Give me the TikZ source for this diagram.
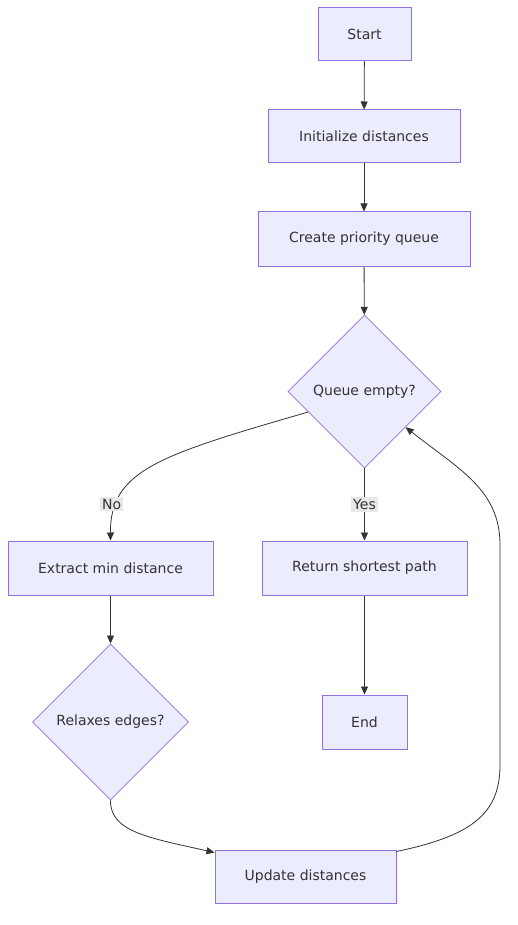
\documentclass[tikz,border=0pt]{standalone}
\usepackage{fontspec}
\setmainfont{DejaVu Sans}
\usetikzlibrary{shapes.geometric,arrows.meta}
\definecolor{boxfill}{HTML}{ECECFF}
\definecolor{boxline}{HTML}{9370DB}
\definecolor{ink}{HTML}{333333}
\definecolor{tagfill}{HTML}{E8E8E8}
\begin{document}
\begin{tikzpicture}[x=1pt, y=-1pt,
		font=\fontsize{14}{16}\selectfont, text=ink,
		stepbox/.style={draw=boxline, fill=boxfill, line width=1pt, inner sep=0pt},
		choice/.style={diamond, draw=boxline, fill=boxfill, line width=0.8pt, inner sep=0pt, minimum width=153pt, minimum height=153pt},
		flow/.style={draw=ink, line width=0.8pt, -{Triangle[length=8pt,width=7pt]}},
		tag/.style={fill=tagfill, inner sep=2pt}]
	\useasboundingbox[fill=white] (0,0) rectangle (517,925);

	\node[stepbox, minimum width=93pt, minimum height=53pt] (start) at (364.5,34.5) {Start};
	\node[stepbox, minimum width=192pt, minimum height=53pt] (init) at (364,136.5) {Initialize distances};
	\node[stepbox, minimum width=212pt, minimum height=54pt] (queue) at (364,239) {Create priority queue};
	\node[choice] (empty) at (364.5,391.5) {Queue empty?};
	\node[stepbox, minimum width=205pt, minimum height=54pt] (extract) at (110.5,568) {Extract min distance};
	\node[stepbox, minimum width=205pt, minimum height=54pt] (path) at (364.5,568) {Return shortest path};
	\node[choice, minimum width=156pt, minimum height=156pt] (relax) at (110.5,722) {Relaxes edges?};
	\node[stepbox, minimum width=85pt, minimum height=54pt] (end) at (364.5,722) {End};
	\node[stepbox, minimum width=181pt, minimum height=53pt] (update) at (305.5,876.5) {Update distances};

	\draw[flow] (start) -- (init);
	\draw[flow] (init) -- (queue);
	\draw[flow] (queue) -- (empty);

	\draw[flow] (empty.200) .. controls (160,455) and (110,470) .. (extract.north)
		node[tag, pos=0.8, xshift=-5pt] {No};
	\draw[flow] (empty) -- (path) node[tag, pos=0.5] {Yes};

	\draw[flow] (extract) -- (relax);
	\draw[flow] (path) -- (end);

	\draw[flow] (relax.south) .. controls (110,832) and (150,838) .. ([yshift=-3pt]update.north west);
	\draw[flow] ([yshift=-2pt]update.north east) .. controls (470,836) and (500,815) .. (500,765)
		-- (500,545) .. controls (500,490) and (460,470) .. (empty.-41);
\end{tikzpicture}
\end{document}
